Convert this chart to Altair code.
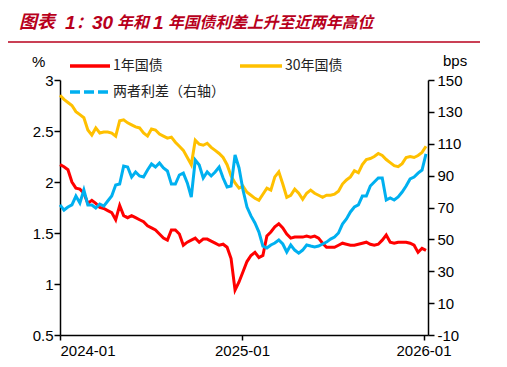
import altair as alt
import pandas as pd

# x categories: sampling dates (every 8 days from 2024-01-01)
dates = pd.date_range("2024-01-01", periods=93, freq="8D").strftime("%Y-%m-%d").tolist()

yield_1y = [2.17, 2.15, 2.12, 2.00, 1.94, 1.93, 1.89, 1.79, 1.82, 1.79,
            1.75, 1.74, 1.72, 1.70, 1.63, 1.77, 1.67, 1.65, 1.67, 1.65,
            1.63, 1.61, 1.57, 1.55, 1.53, 1.49, 1.45, 1.43, 1.53, 1.53,
            1.49, 1.38, 1.41, 1.43, 1.45, 1.41, 1.44, 1.44, 1.42, 1.40,
            1.38, 1.39, 1.36, 1.25, 0.94, 1.02, 1.12, 1.22, 1.28, 1.31,
            1.26, 1.28, 1.47, 1.51, 1.56, 1.59, 1.55, 1.49, 1.45, 1.46,
            1.46, 1.46, 1.47, 1.46, 1.47, 1.45, 1.40, 1.36, 1.36, 1.36,
            1.38, 1.40, 1.39, 1.38, 1.38, 1.39, 1.40, 1.41, 1.39, 1.38,
            1.39, 1.43, 1.48, 1.41, 1.40, 1.41, 1.41, 1.41, 1.40, 1.38,
            1.31, 1.35, 1.33]

yield_30y = [2.85, 2.81, 2.78, 2.75, 2.69, 2.66, 2.63, 2.51, 2.46, 2.53,
             2.48, 2.49, 2.49, 2.48, 2.45, 2.60, 2.61, 2.58, 2.56, 2.54,
             2.53, 2.48, 2.45, 2.52, 2.51, 2.47, 2.45, 2.43, 2.44, 2.39,
             2.35, 2.31, 2.24, 2.17, 2.41, 2.37, 2.36, 2.38, 2.34, 2.31,
             2.28, 2.24, 2.17, 2.06, 1.99, 1.94, 1.96, 1.90, 1.87, 1.84,
             1.82, 1.88, 1.94, 1.92, 2.05, 2.10, 1.98, 1.85, 1.87, 1.93,
             1.89, 1.83, 1.89, 1.92, 1.89, 1.87, 1.85, 1.87, 1.87, 1.88,
             1.91, 1.98, 2.02, 2.05, 2.11, 2.09, 2.17, 2.22, 2.23, 2.25,
             2.28, 2.26, 2.22, 2.19, 2.16, 2.15, 2.18, 2.24, 2.25, 2.24,
             2.26, 2.29, 2.35]

spread_bp = [71.6, 68.4, 70.3, 71.6, 77.2, 72.8, 81.0, 71.6, 71.6, 69.7,
             72.2, 70.9, 74.1, 77.2, 84.1, 84.7, 96.0, 95.4, 89.1, 92.3,
             89.8, 89.1, 93.5, 97.3, 95.4, 97.9, 94.8, 92.9, 84.7, 84.7,
             90.4, 91.6, 85.4, 76.6, 99.8, 96.7, 88.5, 92.3, 89.8, 92.3,
             95.4, 88.5, 82.9, 83.5, 102.9, 94.8, 81.0, 70.3, 64.7, 60.3,
             54.6, 45.8, 44.6, 46.5, 47.7, 49.6, 47.1, 42.1, 46.5, 43.3,
             41.4, 43.3, 46.5, 45.8, 45.2, 45.8, 47.1, 48.3, 50.2, 51.5,
             54.0, 59.6, 62.8, 67.2, 70.3, 71.6, 77.2, 77.2, 83.5, 86.0,
             88.5, 88.5, 74.7, 76.0, 74.7, 76.6, 79.7, 83.5, 87.9, 89.1,
             91.6, 93.5, 103.6]

series_names = ["1年国债", "30年国债", "两者利差（右轴）"]
colors = ["#FF0000", "#FFC000", "#00B0F0"]
left_ticks = [0.5, 1, 1.5, 2, 2.5, 3]
right_ticks = [-10, 10, 30, 50, 70, 90, 110, 130, 150]
# title pieces: (text, is_digit, font size)
title_parts = [("图表", False, 18), ("1", True, 19), ("：", False, 16), ("30", True, 19),
               ("年和", False, 16), ("1", True, 19), ("年国债利差上升至近两年高位", False, 15.8)]
title_x = [-41, 5, 16, 32, 57, 93, 108]

n = len(dates)
left_df = pd.DataFrame({
    "date": dates * 2,
    "value": yield_1y + yield_30y,
    "series": [series_names[0]] * n + [series_names[1]] * n,
})
right_df = pd.DataFrame({"date": dates, "value": spread_bp})

LAT = "Liberation Sans"
CJK = "Noto Sans CJK SC"
TITLE_RED = "#B8001C"

axis_common = dict(grid=False, title=None, labelFont=LAT, labelFontSize=15,
                   labelColor="black", domainColor="black", tickColor="black",
                   domainWidth=1.5, tickWidth=1.5)

x_enc = alt.X(
    "date:T",
    scale=alt.Scale(domain=[alt.DateTime(year=2024, month=1, date=1),
                            alt.DateTime(year=2026, month=1, date=10)]),
    axis=alt.Axis(values=[alt.DateTime(year=2024, month=1, date=1),
                          alt.DateTime(year=2025, month=1, date=1),
                          alt.DateTime(year=2026, month=1, date=1)],
                  format="%Y-%m", tickSize=5, labelPadding=3, **axis_common),
)

left = alt.Chart(left_df).mark_line(strokeWidth=3).encode(
    x=x_enc,
    y=alt.Y("value:Q", scale=alt.Scale(domain=[0.5, 3], nice=False, zero=False),
            axis=alt.Axis(values=left_ticks, format="~g", tickSize=6, labelPadding=1,
                          **axis_common)),
    color=alt.Color("series:N", scale=alt.Scale(domain=series_names[:2], range=colors[:2]),
                    legend=None),
)

right = alt.Chart(right_df).mark_line(strokeWidth=3, color=colors[2]).encode(
    x=x_enc,
    y=alt.Y("value:Q", scale=alt.Scale(domain=[-10, 150], nice=False, zero=False),
            axis=alt.Axis(orient="right", values=right_ticks, labelExpr="datum.value + ''",
                          tickSize=6, labelPadding=3, **axis_common)),
)


def one(s):
    return pd.DataFrame({"t": [s]})


def text(s, x, y, size, font, color="black", **kw):
    return alt.Chart(one(s)).mark_text(
        align="left", baseline="middle", fontSize=size, font=font, color=color, **kw
    ).encode(text="t:N", x=alt.value(x), y=alt.value(y))


def hline(x1, x2, y, color, width, dash=None):
    kw = dict(color=color, strokeWidth=width)
    if dash:
        kw["strokeDash"] = dash
    return alt.Chart(one("l")).mark_rule(**kw).encode(
        x=alt.value(x1), x2=alt.value(x2), y=alt.value(y))


title_layers = []
for (part, is_digit, size), px in zip(title_parts, title_x):
    title_layers.append(text(part, px, -57, size, LAT if is_digit else CJK,
                             color=TITLE_RED, fontWeight="bold", fontStyle="italic"))

annotations = title_layers + [
    hline(-52, 420, -38, TITLE_RED, 1.5),
    text("%", -28, -18, 15, LAT),
    text("bps", 383, -19, 15, LAT),
    hline(10, 50, -14, colors[0], 3.5),
    text(series_names[0], 53, -14, 14, CJK, color="#222222"),
    hline(180, 222, -14, colors[1], 3.5),
    text(series_names[1], 225, -14, 14, CJK, color="#222222"),
    hline(10, 50, 12, colors[2], 3.5, dash=[10, 4]),
    text(series_names[2], 53, 12, 14, CJK, color="#222222"),
]

chart = alt.layer(left, right, *annotations).resolve_scale(y="independent").properties(
    width=368,
    height=255,
    padding={"left": 52, "top": 72, "right": 71, "bottom": 30},
    autosize=alt.AutoSizeParams(type="none"),
    background="white",
).configure_view(stroke=None)

chart.save("out.html", embed_options={"renderer": "svg", "actions": False})
